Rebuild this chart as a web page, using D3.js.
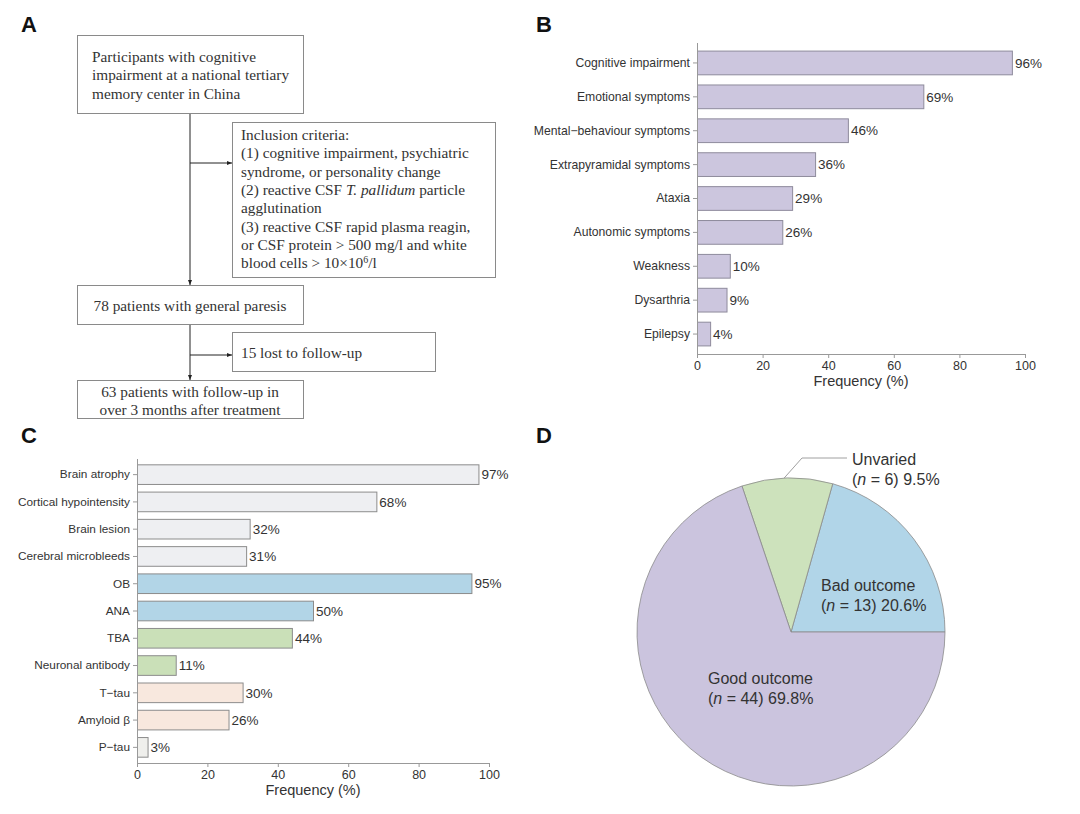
<!doctype html>
<html>
<head>
<meta charset="utf-8">
<title>General paresis figure</title>
<script src="https://cdn.jsdelivr.net/npm/d3@7"></script>
<style>
  body { margin: 0; background: #fff; }
  svg { display: block; }
  .sans { font-family: Arial, "Liberation Sans", sans-serif; fill: #333; }
  .serif { font-family: "Times New Roman", "Liberation Serif", serif; fill: #333; font-size: 15.3px; }
</style>
</head>
<body>
<svg id="fig" width="1080" height="814"></svg>
<script>
// ---- data ----
var symptoms = ["Cognitive impairment", "Emotional symptoms", "Mental\u2212behaviour symptoms",
  "Extrapyramidal symptoms", "Ataxia", "Autonomic symptoms", "Weakness", "Dysarthria", "Epilepsy"];
var symptomFreq = [96, 69, 46, 36, 29, 26, 10, 9, 4];

var exams = ["Brain atrophy", "Cortical hypointensity", "Brain lesion", "Cerebral microbleeds",
  "OB", "ANA", "TBA", "Neuronal antibody", "T\u2212tau", "Amyloid \u03b2", "P\u2212tau"];
var examFreq = [97, 68, 32, 31, 95, 50, 44, 11, 30, 26, 3];
var examGroup = ["mri", "mri", "mri", "mri", "immune", "immune", "antibody", "antibody", "csf", "csf", "ptau"];

var outcomes = ["Bad outcome", "Unvaried", "Good outcome"];
var outcomeN = [13, 6, 44];
var outcomePct = ["20.6%", "9.5%", "69.8%"];

var freqTicks = [0, 20, 40, 60, 80, 100];

var svg = d3.select("#fig");

// panel letters
[["A", 21, 32], ["B", 536, 32], ["C", 21, 443], ["D", 536, 443]].forEach(function(p) {
  svg.append("text").attr("class", "sans").attr("x", p[1]).attr("y", p[2])
    .style("font-size", "22px").style("font-weight", "bold").style("fill", "#111").text(p[0]);
});

// ---- A: flowchart ----
var defs = svg.append("defs");
defs.append("marker").attr("id", "arr").attr("viewBox", "0 0 10 10")
  .attr("refX", 10).attr("refY", 5).attr("markerWidth", 5).attr("markerHeight", 5)
  .attr("orient", "auto")
  .append("path").attr("d", "M0,1L10,5L0,9z").attr("fill", "#222");

var gA = svg.append("g");
function box(x0, y0, x1, y1) {
  gA.append("rect").attr("x", x0 + 0.5).attr("y", y0 + 0.5).attr("width", x1 - x0).attr("height", y1 - y0)
    .attr("fill", "#fff").attr("stroke", "#8a8a8a").attr("stroke-width", 1);
}
function arrow(x0, y0, x1, y1) {
  gA.append("line").attr("x1", x0).attr("y1", y0).attr("x2", x1).attr("y2", y1)
    .attr("stroke", "#222").attr("stroke-width", 1).attr("marker-end", "url(#arr)");
}
arrow(190, 113, 190, 285);
arrow(190, 163, 232, 163);
arrow(190, 324, 190, 380);
arrow(190, 355, 232, 355);

box(77, 35, 303, 113);
box(232, 122, 495, 277);
box(77, 285, 303, 324);
box(232, 332, 435, 371);
box(77, 380, 303, 418);

function lines(x, y0, step, arr, anchor) {
  arr.forEach(function(l, i) {
    var t = gA.append("text").attr("class", "serif").attr("x", x).attr("y", y0 + i * step)
      .attr("text-anchor", anchor || "start");
    l.forEach(function(seg) {
      var s = t.append("tspan").text(seg[0]);
      if (seg[1] === "i") s.style("font-style", "italic");
      if (seg[1] === "sup") s.style("font-size", "10px").attr("dy", -5);
      if (seg[1] === "after") s.attr("dy", 5);
    });
  });
}
lines(92, 62, 18.3, [[["Participants with cognitive"]], [["impairment at a national tertiary"]], [["memory center in China"]]]);
lines(241, 140, 18.3, [
  [["Inclusion criteria:"]],
  [["(1) cognitive impairment, psychiatric"]],
  [["syndrome, or personality change"]],
  [["(2) reactive CSF "], ["T. pallidum", "i"], [" particle"]],
  [["agglutination"]],
  [["(3) reactive CSF rapid plasma reagin,"]],
  [["or CSF protein > 500 mg/l and white"]],
  [["blood cells > 10\u00d710"], ["6", "sup"], ["/l", "after"]]
]);
lines(190, 311, 18, [[["78 patients with general paresis"]]], "middle");
lines(241, 358, 18, [[["15 lost to follow-up"]]]);
lines(190, 397, 18.3, [[["63 patients with follow-up in"]], [["over 3 months after treatment"]]], "middle");

// ---- shared bar chart ----
function barChart(opt) {
  var g = svg.append("g");
  var x = d3.scaleLinear().domain([0, 100]).range([opt.x0, opt.x1]);
  var y = d3.scaleBand().domain(opt.cats).range([opt.yTop, opt.yBot]).paddingInner(opt.pad).paddingOuter(opt.pad / 2);

  g.selectAll("rect.bar").data(opt.vals).enter().append("rect")
    .attr("x", x(0) + 0.5)
    .attr("y", function(d, i) { return y(opt.cats[i]); })
    .attr("width", function(d) { return x(d) - x(0); })
    .attr("height", y.bandwidth())
    .attr("fill", function(d, i) { return opt.color(i); })
    .attr("stroke", opt.stroke).attr("stroke-width", 1);

  g.selectAll("text.val").data(opt.vals).enter().append("text").attr("class", "sans")
    .attr("x", function(d) { return x(d) + 3; })
    .attr("y", function(d, i) { return y(opt.cats[i]) + y.bandwidth() / 2; })
    .attr("dy", "0.35em").style("font-size", "13.5px")
    .text(function(d) { return d + "%"; });

  var yAx = g.append("g").attr("transform", "translate(" + x(0) + ",0)")
    .call(d3.axisLeft(y).tickSize(4).tickPadding(3));
  yAx.select(".domain").remove();
  yAx.selectAll("line").attr("stroke", "#999");
  yAx.selectAll("text").attr("class", "sans").style("font-size", opt.catSize).style("fill", "#333")
    .style("font-family", "Arial, 'Liberation Sans', sans-serif");

  g.append("line").attr("x1", x(0) + 0.5).attr("x2", x(0) + 0.5).attr("y1", opt.axTop).attr("y2", opt.axY)
    .attr("stroke", "#999");

  var xAx = g.append("g").attr("transform", "translate(0," + opt.axY + ")")
    .call(d3.axisBottom(x).tickValues(freqTicks).tickSize(4).tickPadding(3).tickSizeOuter(0));
  xAx.select(".domain").attr("stroke", "#999");
  xAx.selectAll("line").attr("stroke", "#999");
  xAx.selectAll("text").style("font-size", "12.5px").style("fill", "#333")
    .style("font-family", "Arial, 'Liberation Sans', sans-serif");

  g.append("text").attr("class", "sans").attr("x", (opt.x0 + opt.x1) / 2).attr("y", opt.axY + 32)
    .attr("text-anchor", "middle").style("font-size", "14.5px").text("Frequency (%)");
}

// ---- B ----
barChart({
  cats: symptoms, vals: symptomFreq, x0: 697, x1: 1025, yTop: 46, yBot: 351, pad: 0.3,
  axTop: 43, axY: 354, catSize: "12.2px", stroke: "#8e8b9c",
  color: function() { return "#ccc6de"; }
});

// ---- C ----
var groupColor = { mri: "#eeeff2", immune: "#b2d5e7", antibody: "#cae0b8", csf: "#f8e8de", ptau: "#efefec" };
barChart({
  cats: exams, vals: examFreq, x0: 137, x1: 489, yTop: 461, yBot: 761, pad: 0.28,
  axTop: 459, axY: 763, catSize: "11.8px", stroke: "#8c8c8c",
  color: function(i) { return groupColor[examGroup[i]]; }
});

// ---- D: pie ----
var pieColor = ["#b1d5e8", "#cde2bc", "#cbc4de"];
var cx = 791, cy = 632, r = 154;
var pie = d3.pie().sort(null).startAngle(Math.PI / 2).endAngle(Math.PI / 2 - 2 * Math.PI);
var arcs = pie(outcomeN);
var arc = d3.arc().innerRadius(0).outerRadius(r);
var gD = svg.append("g").attr("transform", "translate(" + cx + "," + cy + ")");
gD.selectAll("path").data(arcs).enter().append("path")
  .attr("d", arc).attr("fill", function(d, i) { return pieColor[i]; })
  .attr("stroke", "#8a8a8a").attr("stroke-width", 0.8);

// labels
function pieLabel(x, y, i) {
  var t = svg.append("text").attr("class", "sans").attr("x", x).attr("y", y).style("font-size", "16px");
  t.text(outcomes[i]);
  var t2 = svg.append("text").attr("class", "sans").attr("x", x).attr("y", y + 19.5).style("font-size", "16px");
  t2.append("tspan").text("(");
  t2.append("tspan").style("font-style", "italic").text("n");
  t2.append("tspan").text(" = " + outcomeN[i] + ") " + outcomePct[i]);
}
pieLabel(821, 591, 0);
pieLabel(852, 465, 1);
pieLabel(708, 684, 2);

// leader line for Unvaried
var mid = (arcs[1].startAngle + arcs[1].endAngle) / 2;
var ex = cx + r * Math.sin(mid), ey = cy - r * Math.cos(mid);
svg.append("polyline")
  .attr("points", [[ex - 3, ey], [802, 458], [847, 458]].map(function(p) { return p.join(","); }).join(" "))
  .attr("fill", "none").attr("stroke", "#888").attr("stroke-width", 0.8);
</script>
</body>
</html>
